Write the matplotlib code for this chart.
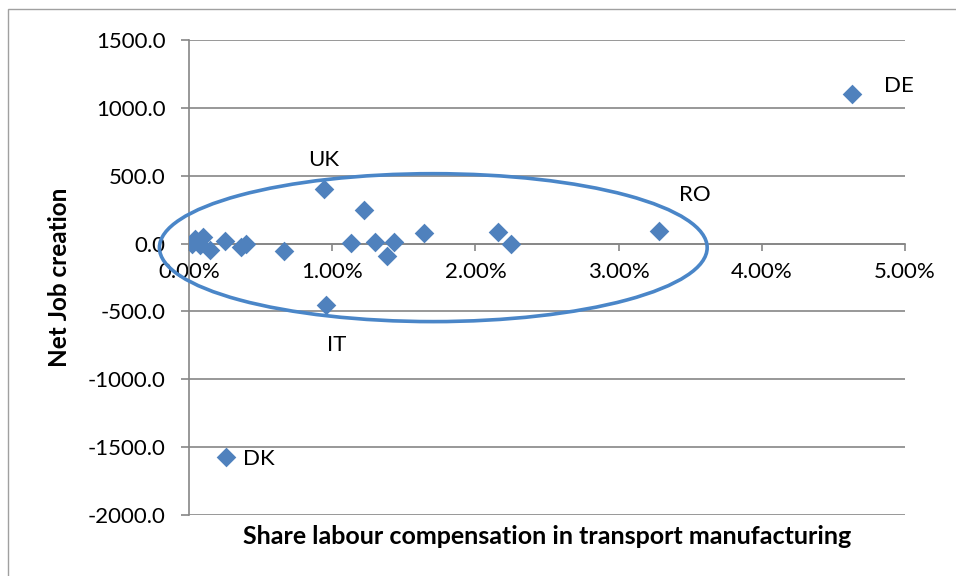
import matplotlib.pyplot as plt
from matplotlib.patches import Ellipse, Rectangle
from matplotlib.ticker import FuncFormatter

# share of labour compensation (fraction) vs net job creation
share = [0.0002, 0.0004, 0.0010, 0.0008, 0.0015, 0.0025, 0.0036, 0.0040,
         0.0066, 0.0094, 0.0122, 0.0113, 0.0130, 0.0138, 0.0143, 0.0164,
         0.0096, 0.0216, 0.0225, 0.0328, 0.0463, 0.0026]
jobs = [0, 30, 50, -10, -45, 20, -25, 0,
        -55, 400, 245, 5, 10, -95, 15, 75,
        -450, 85, 0, 95, 1100, -1570]
labels = {9: "UK", 16: "IT", 19: "RO", 20: "DE", 21: "DK"}

plt.rcParams['font.family'] = ['Lato', 'DejaVu Sans']

fig = plt.figure(figsize=(9.56, 5.76), dpi=100)
ax = fig.add_axes([189 / 956, 1 - 515 / 576, (905 - 189) / 956, (515 - 40) / 576])

ax.scatter(share, jobs, marker='D', s=100, color='#4f81bd', zorder=3, linewidths=0)

# country labels
offsets = {"UK": (0, 29), "IT": (10, -40), "RO": (36, 36), "DE": (47, 8), "DK": (33, -2)}
for i, name in labels.items():
    ax.annotate(name, (share[i], jobs[i]), xytext=offsets[name], textcoords='offset pixels',
                ha='center', va='center', fontsize=16)

# the ring round the main cluster
ring = Ellipse((0.01706, -30), 0.03825, 1090, fill=False, edgecolor='#4a86c8',
               linewidth=2.6, clip_on=False, zorder=4)
ax.add_patch(ring)

ax.set_xlim(0, 0.05)
ax.set_ylim(-2000, 1500)
ax.set_xticks([0, 0.01, 0.02, 0.03, 0.04, 0.05])
ax.set_yticks(range(-2000, 1501, 500))
ax.xaxis.set_major_formatter(FuncFormatter(lambda v, p: f"{v * 100:.2f}%"))
ax.yaxis.set_major_formatter(FuncFormatter(lambda v, p: f"{v:.1f}"))

ax.spines['top'].set_visible(False)
ax.spines['right'].set_visible(False)
ax.spines['bottom'].set_position(('data', 0))
for s in ('left', 'bottom'):
    ax.spines[s].set_color('#868686')
    ax.spines[s].set_linewidth(1.2)
ax.grid(axis='y', color='#868686', linewidth=1.2)
ax.set_axisbelow(True)
ax.tick_params(axis='both', labelsize=16, color='#868686', length=5, width=1.2)
ax.tick_params(axis='x', pad=8)
ax.tick_params(axis='y', length=6, pad=11)

ax.set_ylabel("Net Job creation", fontsize=17.5, fontweight='bold')
ax.yaxis.set_label_coords((71 - 189) / 716, 0.5)
fig.text(547 / 956, 1 - 537 / 576, "Share labour compensation in transport manufacturing",
         ha='center', va='center', fontsize=18, fontweight='bold')

# chart border
fig.patches.append(Rectangle((8 / 956, -0.02), 1.0, 1 - 9 / 576 + 0.02, transform=fig.transFigure,
                             fill=False, edgecolor='#a0a0a0', linewidth=1))

fig.savefig("out.png", dpi=100)
